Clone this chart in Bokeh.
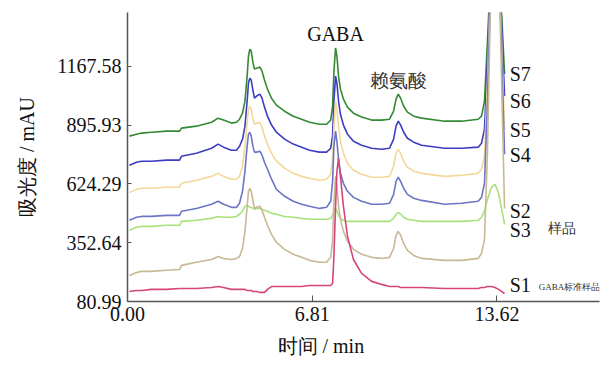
from bokeh.plotting import figure
from bokeh.models import Range1d, FixedTicker, Label, NumeralTickFormatter, Title
from bokeh.embed import file_html
from bokeh.resources import INLINE

# ---- data: retention time (min) shared by all traces, absorbance (mAU) per trace ----
x_ticks = [0.00, 6.81, 13.62]
y_ticks = [80.99, 352.64, 624.29, 895.93, 1167.58]

time_min = [0.07, 0.33, 0.52, 0.88, 1.44, 1.92, 1.99, 2.54, 3.10, 3.34, 3.54, 3.83, 4.02, 4.13,
            4.24, 4.33, 4.41, 4.46, 4.51, 4.56, 4.63, 4.68, 4.76, 4.88, 4.96, 5.05, 5.16, 5.31,
            5.49, 5.79, 6.11, 6.42, 6.71, 7.08, 7.34, 7.49, 7.56, 7.61, 7.67, 7.72, 7.78, 7.85,
            7.96, 8.11, 8.33, 8.63, 9.00, 9.37, 9.66, 9.81, 9.90, 9.98, 10.07, 10.18, 10.32,
            10.55, 10.84, 11.69, 12.32, 12.93, 13.05, 13.16, 13.27, 13.42, 13.55, 13.68, 13.90]

s7 = [845, 854, 859, 863, 868, 868, 882, 891, 909, 928, 919, 905, 909, 923, 951, 1007, 1122,
      1215, 1247, 1238, 1182, 1155, 1159, 1164, 1145, 1104, 1062, 1020, 988, 960, 937, 923, 909,
      900, 900, 919, 983, 1145, 1252, 1215, 1122, 1062, 1016, 979, 951, 933, 919, 919, 923, 960,
      1016, 1039, 1020, 983, 956, 937, 928, 914, 914, 923, 937, 1007, 1284, 1700, 1700, 1700, 1132]
s6 = [710, 724, 729, 729, 734, 734, 752, 766, 789, 808, 794, 780, 780, 798, 831, 891, 1007,
      1090, 1113, 1104, 1053, 1020, 1030, 1039, 1020, 979, 937, 896, 863, 831, 808, 794, 780,
      771, 771, 789, 845, 1007, 1122, 1090, 1007, 946, 896, 854, 821, 803, 789, 784, 789, 831,
      891, 914, 896, 863, 835, 817, 803, 789, 789, 794, 812, 877, 1192, 1700, 1700, 1700, 1030]
s5 = [585, 599, 604, 604, 609, 609, 627, 641, 659, 673, 659, 646, 646, 659, 706, 798, 905,
      970, 983, 970, 923, 900, 905, 909, 886, 845, 808, 766, 729, 697, 673, 659, 650, 641, 646,
      669, 738, 891, 1007, 970, 891, 821, 766, 720, 687, 669, 655, 655, 659, 706, 766, 784, 766,
      729, 701, 683, 673, 659, 664, 673, 692, 752, 1099, 1700, 1700, 1700, 877]
s4 = [456, 470, 474, 474, 479, 479, 498, 511, 530, 544, 530, 516, 516, 535, 590, 683, 798,
      854, 863, 845, 794, 771, 771, 775, 757, 724, 692, 646, 599, 567, 544, 530, 521, 511, 516,
      544, 636, 798, 868, 821, 738, 673, 627, 590, 562, 544, 530, 530, 535, 576, 636, 655, 636,
      604, 576, 558, 548, 530, 535, 544, 562, 627, 1007, 1700, 1700, 1700, 761]
s3 = [410, 424, 428, 428, 433, 433, 451, 456, 465, 474, 470, 470, 474, 484, 498, 521, 525,
      521, 516, 516, 511, 507, 511, 511, 507, 502, 498, 488, 484, 474, 470, 465, 461, 461, 461,
      465, 479, 502, 511, 498, 479, 465, 456, 451, 451, 451, 451, 451, 451, 465, 484, 493, 484,
      470, 461, 456, 451, 451, 451, 456, 470, 498, 553, 609, 622, 581, 437]
s2 = [201, 215, 220, 220, 225, 229, 248, 262, 275, 289, 280, 275, 280, 289, 326, 405, 521,
      590, 604, 590, 544, 511, 516, 521, 502, 470, 433, 391, 354, 322, 299, 285, 271, 262, 262,
      285, 359, 544, 659, 613, 521, 461, 405, 359, 322, 299, 285, 280, 285, 326, 387, 405, 387,
      349, 317, 294, 280, 271, 271, 280, 303, 368, 775, 1700, 1700, 1700, 511]
s1 = [127, 132, 132, 137, 137, 141, 141, 141, 146, 150, 146, 137, 137, 137, 137, 137, 132,
      132, 132, 132, 127, 127, 127, 123, 123, 123, 137, 150, 150, 150, 150, 150, 155, 155, 155,
      155, 164, 289, 521, 683, 743, 659, 521, 382, 275, 211, 174, 160, 150, 150, 150, 150, 146,
      146, 146, 146, 146, 141, 141, 141, 146, 146, 150, 150, 146, 137, 118]

series = [
    (s7, "#338a33"),
    (s6, "#3d3dc2"),
    (s5, "#f3d89a"),
    (s4, "#6b76c4"),
    (s3, "#a8e27c"),
    (s2, "#c8b894"),
    (s1, "#d6457a"),
]

tag_text = ["S7", "S6", "S5", "S4", "S2", "S3", "S1"]
tag_v = [1134, 1005, 871, 756, 501, 409, 155]
tag_t = 14.09

SERIF = "Liberation Serif"
INK = "#111111"

p = figure(width=609, height=367, output_backend="svg", toolbar_location=None,
           x_range=Range1d(0, 17.40), y_range=Range1d(80.99, 1416),
           min_border_left=127, min_border_right=10, min_border_top=12, min_border_bottom=66)
p.outline_line_color = None
p.grid.visible = False
p.background_fill_color = "white"
p.border_fill_color = "white"

for v, c in series:
    p.line(time_min, v, line_color=c, line_width=1.6)

for ax in (p.xaxis[0], p.yaxis[0]):
    ax.axis_line_color = "#555555"
    ax.axis_line_width = 1.5
    ax.major_tick_line_color = "#555555"
    ax.major_tick_out = 0
    ax.minor_tick_line_color = None
    ax.major_label_text_font = SERIF
    ax.major_label_text_font_size = "20px"
    ax.major_label_text_color = INK
    ax.axis_label_text_font = SERIF
    ax.axis_label_text_font_size = "20px"
    ax.axis_label_text_font_style = "normal"
    ax.axis_label_text_color = INK

p.xaxis.major_tick_in = 6
p.yaxis.major_tick_in = 4
p.xaxis.ticker = FixedTicker(ticks=x_ticks)
p.yaxis.ticker = FixedTicker(ticks=y_ticks)
p.xaxis.formatter = NumeralTickFormatter(format="0.00")
p.yaxis.formatter = NumeralTickFormatter(format="0.00")
p.yaxis.axis_label = "吸光度 / mAU"
p.xaxis.major_label_standoff = 5
p.yaxis.major_label_standoff = 6
p.yaxis.axis_label_standoff = 16

p.add_layout(Title(text="时间 / min", align="left", offset=150, text_font=SERIF,
                   text_font_size="20px", text_font_style="normal", text_color=INK,
                   standoff=19), "below")

for txt, v in zip(tag_text, tag_v):
    p.add_layout(Label(x=tag_t, y=v, text=txt, text_font=SERIF, text_font_size="20px",
                       text_baseline="middle", text_align="left", text_color=INK))

p.add_layout(Label(x=7.67, y=1317, text="GABA", text_font=SERIF, text_font_size="20px",
                   text_baseline="middle", text_align="center", text_color=INK))
p.add_layout(Label(x=9.99, y=1102, text="赖氨酸", text_font=SERIF, text_font_size="19px",
                   text_baseline="middle", text_align="center", text_color="#333333"))
p.add_layout(Label(x=15.49, y=418, text="样品", text_font=SERIF, text_font_size="14px",
                   text_baseline="middle", text_align="left", text_color="#333333"))
p.add_layout(Label(x=15.16, y=146, text="GABA标准样品", text_font=SERIF, text_font_size="9px",
                   text_baseline="middle", text_align="left", text_color="#333333"))

open("out.html", "w").write(file_html(p, INLINE))
